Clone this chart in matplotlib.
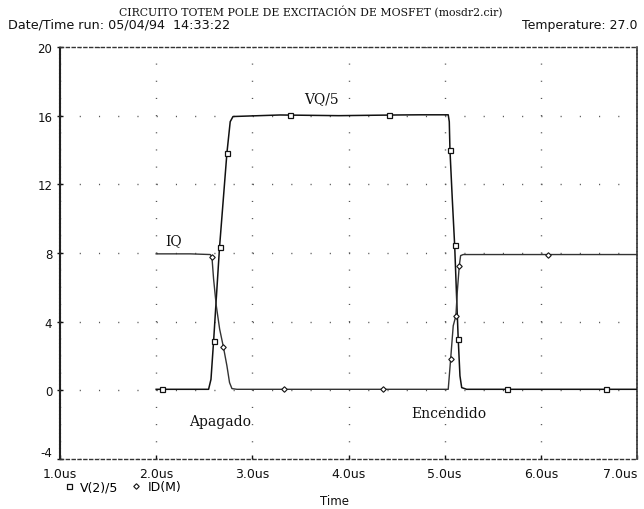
import matplotlib
matplotlib.use("Agg")
import matplotlib.pyplot as plt
from matplotlib.lines import Line2D

# ---------------- data ----------------
# V(2)/5  (curve labelled VQ/5)
v_t = [2.00, 2.355, 2.545, 2.57, 2.597, 2.659, 2.736, 2.77, 2.799, 3.29, 3.9, 4.5,
       4.743, 5.037, 5.048, 5.055, 5.079, 5.104, 5.125, 5.141, 5.159, 5.177, 5.228,
       5.575, 6.2, 7.0]
v_v = [0.06, 0.06, 0.06, 0.64, 2.85, 8.34, 13.84, 15.65, 15.95, 16.04, 16.0, 16.04,
       16.05, 16.05, 15.65, 14.0, 11.17, 8.44, 5.3, 2.98, 0.84, 0.16, 0.06,
       0.06, 0.06, 0.06]
v_mark_t = [2.06, 2.597, 2.659, 2.736, 3.39, 4.425, 5.055, 5.104, 5.141, 5.645, 6.682]
v_mark_v = [0.06, 2.85, 8.34, 13.84, 16.04, 16.04, 14.0, 8.44, 2.98, 0.06, 0.06]

# ID(M)  (curve labelled IQ)
i_t = [2.00, 2.355, 2.563, 2.58, 2.597, 2.625, 2.66, 2.70, 2.736, 2.763, 2.788, 2.84,
       3.5, 4.2, 4.743, 5.037, 5.062, 5.089, 5.117, 5.131, 5.152, 5.166, 5.193,
       5.574, 6.3, 7.0]
i_v = [7.95, 7.95, 7.91, 7.76, 6.49, 4.93, 3.57, 2.5, 1.42, 0.45, 0.1, 0.06,
       0.06, 0.06, 0.06, 0.06, 1.81, 3.76, 4.35, 5.71, 7.27, 7.85, 7.91,
       7.91, 7.91, 7.91]
i_mark_t = [2.58, 2.70, 3.33, 4.363, 5.062, 5.117, 5.152, 6.07]
i_mark_v = [7.76, 2.5, 0.06, 0.06, 1.81, 4.35, 7.27, 7.91]

x_ticks = [1, 2, 3, 4, 5, 6, 7]
x_labels = ["1.0us", "2.0us", "3.0us", "4.0us", "5.0us", "6.0us", "7.0us"]
y_ticks = [-4, 0, 4, 8, 12, 16, 20]
y_labels = ["-4", "0", "4", "8", "12", "16", "20"]

title = "CIRCUITO TOTEM POLE DE EXCITACIÓN DE MOSFET (mosdr2.cir)"
run_text = "Date/Time run: 05/04/94  14:33:22"
temp_text = "Temperature: 27.0"
legend_labels = ["V(2)/5", "ID(M)"]
x_title = "Time"
annotations = [("VQ/5", 3.72, 17.0), ("IQ", 2.18, 8.75),
               ("Apagado", 2.66, -1.8), ("Encendido", 5.04, -1.3)]

# ---------------- figure ----------------
W, H, DPI = 644, 510, 100
fig = plt.figure(figsize=(W / DPI, H / DPI), dpi=DPI)
fig.patch.set_facecolor("white")

L, R, T, B = 60.0, 637.0, 48.0, 460.0
ax = fig.add_axes([L / W, 1 - B / H, (R - L) / W, (B - T) / H])
ax.set_xlim(1, 7)
ax.set_ylim(-4, 20)

ink = "#111111"

# curves
ax.plot(v_t, v_v, color=ink, lw=1.1, zorder=3)
ax.plot(i_t, i_v, color="#333333", lw=1.0, zorder=3)
ax.plot(v_mark_t, v_mark_v, ls="none", marker="s", ms=3.6, mfc="white",
        mec=ink, mew=0.9, zorder=4)
ax.plot(i_mark_t, i_mark_v, ls="none", marker="D", ms=2.8, mfc="white",
        mec=ink, mew=0.8, zorder=4)

# ticks
ax.set_xticks(x_ticks)
ax.set_xticklabels(x_labels)
ax.set_yticks(y_ticks)
ax.set_yticklabels(y_labels)
tl = ax.get_xticklabels()
tl[-1].set_horizontalalignment("right")
ax.tick_params(axis="x", direction="in", length=3, width=1, pad=5.5,
               labelsize=9, colors=ink)
ax.tick_params(axis="y", direction="inout", length=5, width=1, pad=3,
               labelsize=8.5, colors=ink)
for lab in ax.get_xticklabels() + ax.get_yticklabels():
    lab.set_fontfamily("DejaVu Sans")
ax.get_yticklabels()[0].set_verticalalignment("bottom")

# dotted grid (single dots)
px_per_y = (B - T) / 24.0          # pixels per 1 unit on y
px_per_x = (R - L) / 30.0          # pixels per 0.2 us on x
to_pt = 72.0 / DPI
ax.xaxis.grid(True, color="#555555", lw=1.0,
              linestyle=(0, (0.8, px_per_y * to_pt - 0.8)))
ax.yaxis.grid(True, color="#555555", lw=1.0,
              linestyle=(0, (0.8, px_per_x * to_pt - 0.8)))
for gl in ax.xaxis.get_gridlines() + ax.yaxis.get_gridlines():
    gl.set_dash_capstyle("butt")
ax.set_axisbelow(True)

# dashed frame
for side in ["top", "bottom"]:
    ax.spines[side].set_linestyle((0, (2.2, 2.0)))
    ax.spines[side].set_linewidth(1.0)
    ax.spines[side].set_color("#333333")
ax.spines["left"].set_linestyle((0, (1.2, 0.6)))
ax.spines["left"].set_linewidth(1.5)
ax.spines["left"].set_color("#222222")
ax.spines["right"].set_linestyle((0, (1.3, 0.8)))
ax.spines["right"].set_linewidth(1.3)
ax.spines["right"].set_color("#444444")

# curve annotations
for txt, x, y in annotations:
    ax.text(x, y, txt, ha="center", va="center", fontsize=10,
            family="DejaVu Serif", color=ink, zorder=5)

# headers
fig.text(311 / W, 1 - 12 / H, title, ha="center", va="center", fontsize=7.8,
         family="DejaVu Serif", color=ink)
fig.text(8 / W, 1 - 25 / H, run_text, ha="left", va="center", fontsize=9.2,
         family="DejaVu Sans", color=ink)
fig.text(638 / W, 1 - 25 / H, temp_text, ha="right", va="center", fontsize=9,
         family="DejaVu Sans", color=ink)

# legend under the axis
handles = [Line2D([], [], ls="none", marker="s", ms=3.6, mfc="white", mec=ink, mew=0.9),
           Line2D([], [], ls="none", marker="D", ms=2.8, mfc="white", mec=ink, mew=0.8)]
fig.legend(handles, legend_labels, loc="center left",
           bbox_to_anchor=(64 / W, 1 - 488 / H), ncol=2, frameon=False,
           handlelength=0.8, handletextpad=0.5, columnspacing=1.0,
           borderaxespad=0, borderpad=0, prop={"family": "DejaVu Sans", "size": 9})

fig.text(334 / W, 1 - 502 / H, x_title, ha="center", va="center", fontsize=8.5,
         family="DejaVu Sans", color=ink)

fig.savefig("out.png", dpi=DPI, facecolor="white")
